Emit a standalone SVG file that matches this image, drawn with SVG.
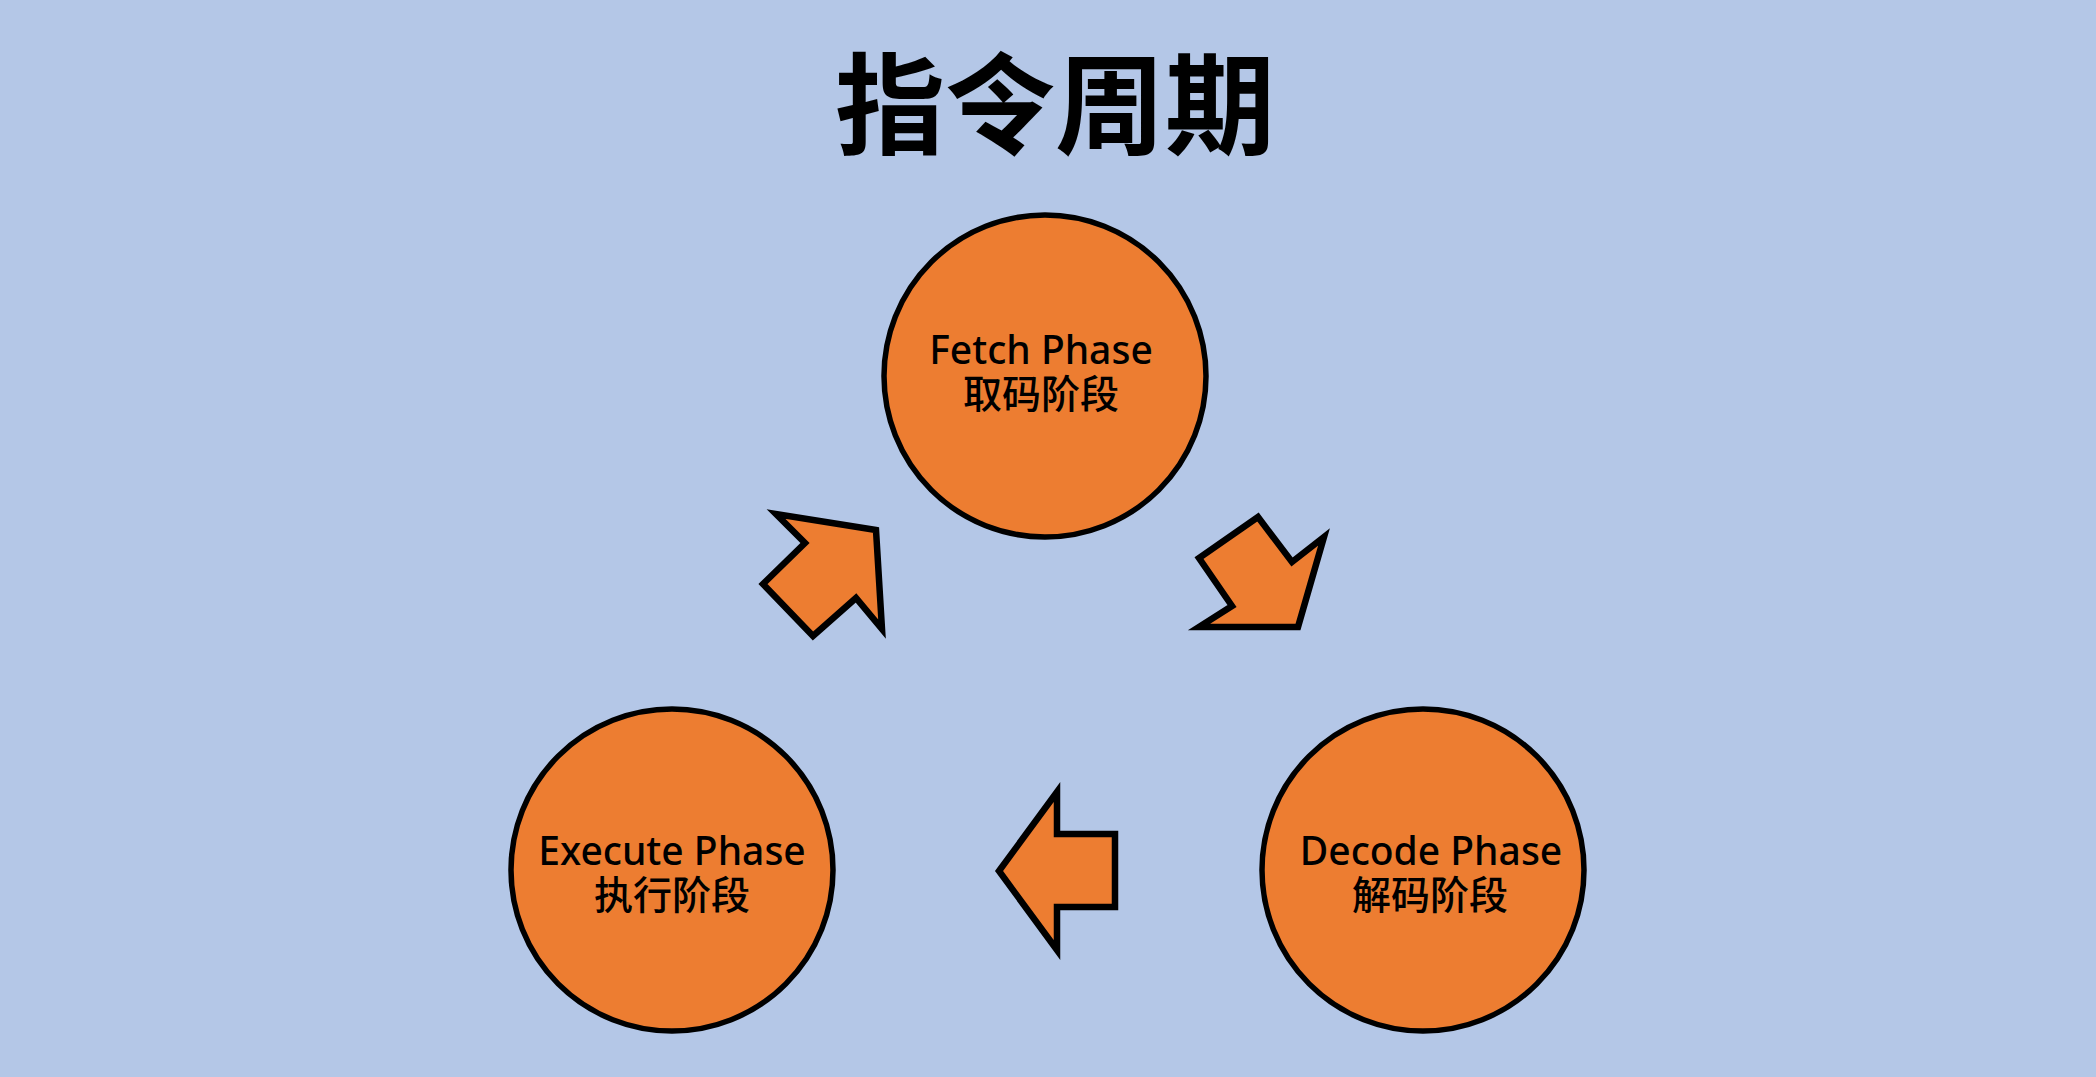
<svg xmlns="http://www.w3.org/2000/svg" width="2096" height="1077" viewBox="0 0 2096 1077">
<style>
.bg{fill:#B4C7E7}
.node{fill:#ED7D31;stroke:#000;stroke-width:5.5}
.arrow{fill:#ED7D31;stroke:#000;stroke-width:6.5;stroke-linejoin:miter}
.lbl{font-family:"Noto Sans","Noto Sans CJK SC",sans-serif;font-size:39px;font-weight:500;fill:#000;text-anchor:middle}
.title{font-family:"Noto Sans CJK SC",sans-serif;font-size:110px;font-weight:bold;fill:#000;text-anchor:middle}
</style>
<rect class="bg" x="0" y="0" width="2096" height="1077"/>
<text class="title" x="1055" y="146">指令周期</text>
<g id="fetch">
<circle class="node" cx="1045" cy="376" r="161"/>
<text class="lbl"><tspan x="1041" y="364">Fetch Phase</tspan><tspan x="1041" y="408">取码阶段</tspan></text>
</g>
<g id="decode">
<circle class="node" cx="1423" cy="870" r="161"/>
<text class="lbl"><tspan x="1431" y="865">Decode Phase</tspan><tspan x="1430" y="909">解码阶段</tspan></text>
</g>
<g id="execute">
<circle class="node" cx="672" cy="870" r="161"/>
<text class="lbl"><tspan x="672" y="865">Execute Phase</tspan><tspan x="672" y="909">执行阶段</tspan></text>
</g>
<g id="connectors">
<polygon class="arrow" points="876,530 776,514 805,543 763,584 813,636 856,598 882,629"/>
<polygon class="arrow" points="1298,627 1324,537 1292,562 1258,517 1199,558 1232,606 1199,627"/>
<polygon class="arrow" points="999,871 1057,792 1057,834 1115,834 1115,907 1057,907 1057,950"/>
</g>
</svg>
